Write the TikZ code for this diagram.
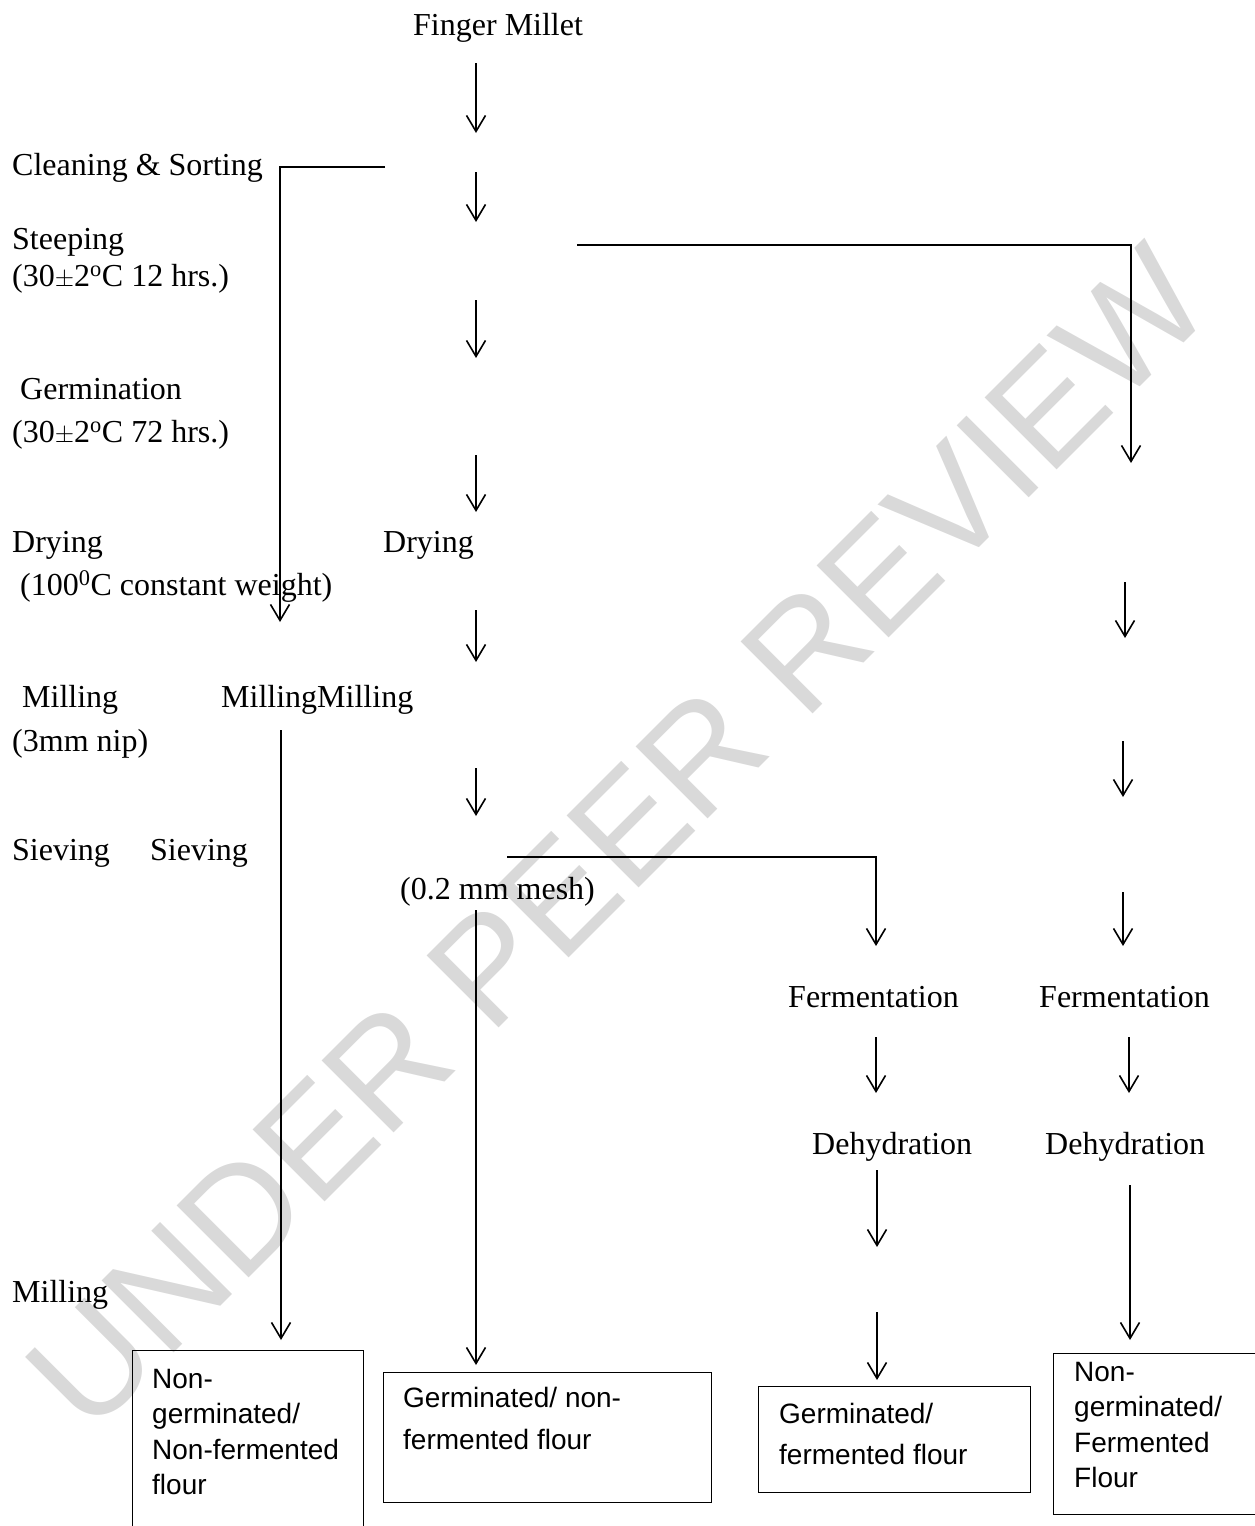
\documentclass[tikz,border=0pt]{standalone}
\usepackage{fontspec}
\setmainfont{Liberation Serif}
\newfontfamily\flourfont{Liberation Sans}
\usetikzlibrary{arrows.meta}

\begin{document}
\begin{tikzpicture}[x=1pt,y=-1pt,>={Straight Barb[length=16pt,width=19pt]},
  stagelbl/.style={anchor=base west,inner sep=0pt,font=\fontsize{32}{38}\selectfont},
  flourbox/.style={draw,line width=1.3pt,anchor=north west,inner sep=0pt},
  flourtxt/.style={anchor=base west,inner sep=0pt},
  flowline/.style={line width=1.6pt}]
  \useasboundingbox (0,0) rectangle (1255,1526);
  % watermark
  \node[rotate=45,inner sep=0pt,text=black!15,font=\flourfont\fontsize{148}{150}\selectfont] (wmark) at (618,838) {UNDER PEER REVIEW};

  % left column
  \node[stagelbl] (millet) at (413,35) {Finger Millet};
  \node[stagelbl] (clean) at (12,175) {Cleaning \& Sorting};
  \node[stagelbl] (steep) at (12,249) {Steeping};
  \node[stagelbl] (steepc) at (12,286) {(30$\pm$2\textsuperscript{o}C 12 hrs.)};
  \node[stagelbl] (germ) at (20,399) {Germination};
  \node[stagelbl] (germc) at (12,442) {(30$\pm$2\textsuperscript{o}C 72 hrs.)};
  \node[stagelbl] (dry) at (12,552) {Drying};
  \node[stagelbl] (dryb) at (383,552) {Drying};
  \node[stagelbl] (dryc) at (20,595) {(100\textsuperscript{0}C constant weight)};
  \node[stagelbl] (mill) at (22,707) {Milling};
  \node[stagelbl] (millb) at (221,707) {MillingMilling};
  \node[stagelbl] (millc) at (12,751) {(3mm nip)};
  \node[stagelbl] (sieve) at (12,860) {Sieving};
  \node[stagelbl] (sieveb) at (150,860) {Sieving};
  \node[stagelbl] (mesh) at (400,899) {(0.2 mm mesh)};
  \node[stagelbl] (millend) at (12,1302) {Milling};

  % fermentation branches
  \node[stagelbl] (ferm) at (788,1007) {Fermentation};
  \node[stagelbl] (fermb) at (1039,1007) {Fermentation};
  \node[stagelbl] (dehyd) at (812,1154) {Dehydration};
  \node[stagelbl] (dehydb) at (1045,1154) {Dehydration};

  % flour boxes
  \node[flourbox,minimum width=231pt,minimum height=200pt] (nongerm) at (132,1350) {};
  \node[flourbox,minimum width=328pt,minimum height=130pt] (germnf) at (383,1372) {};
  \node[flourbox,minimum width=272pt,minimum height=106pt] (germf) at (758,1386) {};
  \node[flourbox,minimum width=220pt,minimum height=161pt] (nongermf) at (1053,1353) {};
  \node[flourtxt,font=\flourfont\fontsize{28}{35.5}\selectfont] (nongermtxt) at (152,1388)
    {\begin{tabular}[t]{@{}l@{}}Non-\\germinated/\\Non-fermented\\flour\end{tabular}};
  \node[flourtxt,font=\flourfont\fontsize{28}{42}\selectfont] (germnftxt) at (403,1407)
    {\begin{tabular}[t]{@{}l@{}}Germinated/ non-\\fermented flour\end{tabular}};
  \node[flourtxt,font=\flourfont\fontsize{28}{41}\selectfont] (germftxt) at (779,1423)
    {\begin{tabular}[t]{@{}l@{}}Germinated/\\fermented flour\end{tabular}};
  \node[flourtxt,font=\flourfont\fontsize{28}{35.5}\selectfont] (nongermftxt) at (1074,1381)
    {\begin{tabular}[t]{@{}l@{}}Non-\\germinated/\\Fermented\\Flour\end{tabular}};

  % short arrows
  \foreach \x/\ya/\yb in {476/63/133, 476/172/222, 476/300/358, 476/455/512,
      476/610/662, 476/768/816, 1125/582/638, 1123/741/797, 1123/892/946,
      876/1037/1093, 1129/1037/1093, 877/1170/1247, 877/1312/1380}
    \draw[flowline,->] (\x,\ya) -- (\x,\yb);

  % branch lines
  \draw[flowline,->] (385,167) -| (280,622);
  \draw[flowline,->] (577,245) -| (1131,463);
  \draw[flowline,->] (507,857) -| (876,946);
  \draw[flowline,->] (281,730) -- ([xshift=149pt,yshift=10pt]nongerm.north west);
  \draw[flowline,->] (476,910) -- ([xshift=93pt,yshift=7pt]germnf.north west);
  \draw[flowline,->] (1130,1185) -- ([xshift=77pt,yshift=13pt]nongermf.north west);
\end{tikzpicture}
\end{document}
